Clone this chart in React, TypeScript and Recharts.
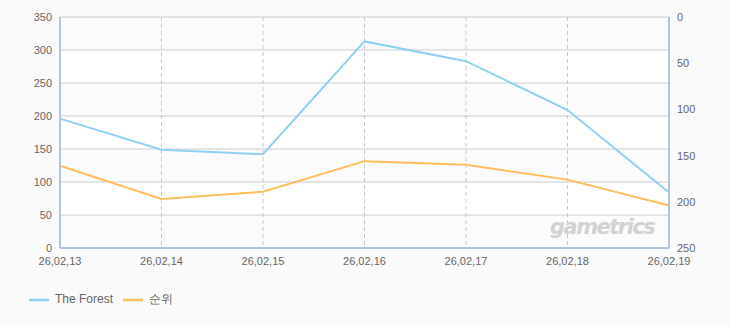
import React from 'react';
import { LineChart, Line, XAxis, YAxis, CartesianGrid, Legend } from 'recharts';

const categories = ['26,02,13', '26,02,14', '26,02,15', '26,02,16', '26,02,17', '26,02,18', '26,02,19'];
const forestValues = [196, 149, 142, 313, 283, 209, 84];
const rankValues = [161, 197, 189, 156, 160, 176, 204];
const leftTicks = [0, 50, 100, 150, 200, 250, 300, 350];
const rightTicks = [0, 50, 100, 150, 200, 250];

const data = categories.map((c, i) => ({ date: c, forest: forestValues[i], rank: rankValues[i] }));

const FONT = '"Liberation Sans", Arial, sans-serif';
const AXIS_COLOR = '#b3c5d8';

export default function App() {
  return (
    <div style={{ position: 'absolute', left: 0, top: 0, width: 730, height: 325, background: '#fafafa', fontFamily: FONT }}>
      <LineChart width={730} height={325} data={data} margin={{ top: 17, right: 11, left: 2, bottom: 5 }}>
        <CartesianGrid
          yAxisId="left"
          stroke="#cccccc"
          vertical={false}
          horizontalFill={['#fbfbfb', '#ffffff']}
          fill="#ffffff"
        />
        <CartesianGrid yAxisId="left" stroke="#c8c8c8" strokeDasharray="4 3" horizontal={false} />
        <XAxis
          dataKey="date"
          axisLine={{ stroke: AXIS_COLOR, strokeWidth: 2 }}
          tickLine={false}
          height={42}
          tick={{ fill: '#666', fontSize: 11, fontFamily: FONT }}
          tickMargin={3}
          interval={0}
        />
        <XAxis
          xAxisId="top"
          orientation="top"
          dataKey="date"
          height={0}
          tick={false}
          tickLine={false}
          axisLine={{ stroke: AXIS_COLOR, strokeWidth: 2 }}
        />
        <YAxis
          yAxisId="left"
          domain={[0, 350]}
          ticks={leftTicks}
          width={58}
          axisLine={{ stroke: AXIS_COLOR, strokeWidth: 2 }}
          tickLine={false}
          tickMargin={2}
          tick={{ fill: '#666', fontSize: 11, fontFamily: FONT }}
        />
        <YAxis
          yAxisId="right"
          orientation="right"
          domain={[0, 250]}
          reversed
          ticks={rightTicks}
          width={50}
          axisLine={{ stroke: AXIS_COLOR, strokeWidth: 2 }}
          tickLine={false}
          tickMargin={2}
          tick={{ fill: '#666', fontSize: 11, fontFamily: FONT }}
        />
        <Legend
          verticalAlign="bottom"
          align="left"
          height={30}
          iconSize={20}
          wrapperStyle={{ paddingLeft: 27, fontSize: 12, fontFamily: FONT }}
          formatter={(value) => <span style={{ color: '#666', marginLeft: 2 }}>{value}</span>}
        />
        <Line
          yAxisId="left"
          xAxisId={0}
          type="linear"
          dataKey="forest"
          name="The Forest"
          stroke="#8fd0f2"
          strokeWidth={2}
          dot={false}
          activeDot={false}
          legendType="plainline"
          isAnimationActive={false}
        />
        <Line
          yAxisId="right"
          xAxisId={0}
          type="linear"
          dataKey="rank"
          name="순위"
          stroke="#ffbe5c"
          strokeWidth={2}
          dot={false}
          activeDot={false}
          legendType="plainline"
          isAnimationActive={false}
        />
      </LineChart>
      <div
        style={{
          position: 'absolute',
          left: 550,
          top: 215,
          fontSize: 21,
          fontWeight: 'bold',
          fontStyle: 'italic',
          color: '#d2d2d2',
          fontFamily: '"DejaVu Sans", sans-serif',
          letterSpacing: -1.5,
          lineHeight: '24px',
        }}
      >
        gametrics
      </div>
    </div>
  );
}
